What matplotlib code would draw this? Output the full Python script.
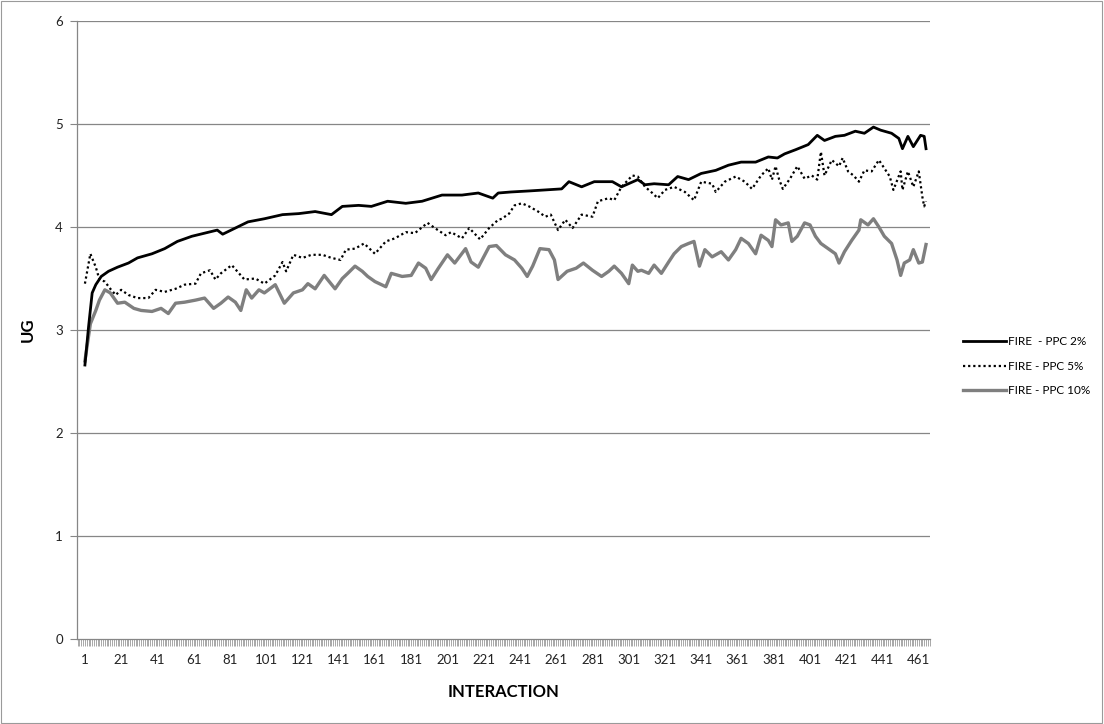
import matplotlib
matplotlib.use('Agg')
import matplotlib.pyplot as plt
from matplotlib.ticker import MultipleLocator, FixedLocator
from matplotlib.patches import Rectangle

plt.rcParams['font.family'] = ['Lato', 'DejaVu Sans']

# FIRE - PPC 2% (interaction, UG)
x_2 = [1, 3, 5, 7, 10, 14, 19, 25, 30, 38, 45, 52, 60, 67, 74, 77, 84, 91, 100,
       110, 119, 128, 137, 143, 152, 159, 168, 178, 187, 198, 209, 218, 226, 229,
       236, 246, 255, 264, 268, 275, 282, 292, 297, 306, 310, 315, 323, 328, 334,
       341, 349, 356, 363, 371, 378, 383, 387, 393, 400, 405, 409, 415, 420, 426,
       431, 436, 440, 446, 450, 452, 455, 458, 462, 464, 465]
ug_2 = [2.66, 3.03, 3.36, 3.44, 3.52, 3.57, 3.61, 3.65, 3.70, 3.74, 3.79, 3.86, 3.91,
        3.94, 3.97, 3.93, 3.99, 4.05, 4.08, 4.12, 4.13, 4.15, 4.12, 4.20, 4.21, 4.20,
        4.25, 4.23, 4.25, 4.31, 4.31, 4.33, 4.28, 4.33, 4.34, 4.35, 4.36, 4.37, 4.44,
        4.39, 4.44, 4.44, 4.39, 4.46, 4.41, 4.42, 4.41, 4.49, 4.46, 4.52, 4.55, 4.60,
        4.63, 4.63, 4.68, 4.67, 4.71, 4.75, 4.80, 4.89, 4.84, 4.88, 4.89, 4.93, 4.91,
        4.97, 4.94, 4.91, 4.86, 4.76, 4.88, 4.78, 4.89, 4.88, 4.76]

# FIRE - PPC 5%
x_5 = [1, 4, 7, 9, 12, 15, 18, 21, 25, 30, 36, 40, 45, 51, 56, 62, 65, 70, 73, 76,
       82, 86, 89, 95, 100, 106, 110, 112, 116, 121, 126, 132, 137, 142, 145, 150,
       155, 161, 167, 172, 178, 183, 190, 194, 200, 203, 209, 213, 219, 224, 229,
       231, 235, 238, 242, 246, 251, 255, 258, 262, 266, 270, 275, 281, 284, 290,
       293, 297, 303, 306, 310, 314, 317, 321, 326, 332, 337, 341, 347, 349, 354,
       360, 365, 369, 374, 378, 380, 382, 384, 386, 390, 394, 398, 402, 405, 407,
       409, 413, 417, 419, 422, 425, 428, 431, 435, 439, 442, 445, 447, 451, 452,
       455, 458, 461, 463, 464, 465]
ug_5 = [3.45, 3.74, 3.61, 3.49, 3.47, 3.40, 3.34, 3.39, 3.34, 3.31, 3.31, 3.39, 3.37,
        3.40, 3.44, 3.45, 3.55, 3.58, 3.49, 3.55, 3.63, 3.55, 3.49, 3.50, 3.45, 3.53,
        3.66, 3.57, 3.73, 3.70, 3.73, 3.73, 3.70, 3.68, 3.78, 3.79, 3.84, 3.74, 3.86,
        3.89, 3.95, 3.94, 4.04, 3.99, 3.92, 3.95, 3.89, 3.99, 3.88, 3.99, 4.07, 4.08,
        4.13, 4.21, 4.23, 4.20, 4.15, 4.10, 4.12, 3.97, 4.07, 3.99, 4.12, 4.10, 4.25,
        4.28, 4.26, 4.39, 4.50, 4.49, 4.39, 4.33, 4.28, 4.36, 4.39, 4.34, 4.26, 4.44,
        4.42, 4.34, 4.44, 4.49, 4.44, 4.37, 4.50, 4.57, 4.46, 4.59, 4.46, 4.37, 4.47,
        4.59, 4.47, 4.50, 4.46, 4.73, 4.50, 4.65, 4.59, 4.67, 4.54, 4.50, 4.44, 4.55,
        4.54, 4.65, 4.57, 4.49, 4.36, 4.54, 4.36, 4.54, 4.39, 4.54, 4.29, 4.20, 4.25]

# FIRE - PPC 10%
x_10 = [1, 4, 7, 9, 12, 15, 19, 23, 28, 32, 38, 43, 47, 51, 56, 62, 67, 72, 76, 80,
        84, 87, 90, 93, 97, 100, 106, 111, 116, 121, 124, 128, 133, 139, 143, 146,
        150, 154, 157, 161, 167, 170, 176, 181, 185, 189, 192, 196, 201, 205, 211,
        214, 218, 224, 228, 233, 238, 242, 245, 248, 252, 257, 260, 262, 267, 272,
        276, 281, 286, 290, 293, 297, 301, 303, 306, 308, 312, 315, 319, 323, 326,
        330, 334, 337, 340, 343, 347, 352, 356, 360, 363, 367, 371, 374, 378, 380,
        382, 385, 389, 391, 394, 398, 401, 404, 407, 411, 415, 417, 420, 424, 428,
        429, 433, 436, 439, 442, 446, 449, 451, 453, 456, 458, 461, 463, 465]
ug_10 = [2.70, 3.06, 3.19, 3.29, 3.39, 3.36, 3.26, 3.27, 3.21, 3.19, 3.18, 3.21, 3.16,
         3.26, 3.27, 3.29, 3.31, 3.21, 3.26, 3.32, 3.27, 3.19, 3.39, 3.31, 3.39, 3.36,
         3.44, 3.26, 3.36, 3.39, 3.45, 3.40, 3.53, 3.40, 3.50, 3.55, 3.62, 3.57, 3.52,
         3.47, 3.42, 3.55, 3.52, 3.53, 3.65, 3.60, 3.49, 3.60, 3.73, 3.65, 3.79, 3.66,
         3.61, 3.81, 3.82, 3.73, 3.68, 3.60, 3.52, 3.62, 3.79, 3.78, 3.68, 3.49, 3.57,
         3.60, 3.65, 3.58, 3.52, 3.57, 3.62, 3.55, 3.45, 3.63, 3.57, 3.58, 3.55, 3.63,
         3.55, 3.66, 3.74, 3.81, 3.84, 3.86, 3.62, 3.78, 3.71, 3.76, 3.68, 3.78, 3.89,
         3.84, 3.74, 3.92, 3.87, 3.81, 4.07, 4.02, 4.04, 3.86, 3.91, 4.04, 4.02, 3.91,
         3.84, 3.79, 3.74, 3.65, 3.76, 3.87, 3.97, 4.07, 4.02, 4.08, 4.00, 3.91, 3.84,
         3.68, 3.53, 3.65, 3.68, 3.78, 3.65, 3.66, 3.83]

labels = ['FIRE  - PPC 2%', 'FIRE - PPC 5%', 'FIRE - PPC 10%']
x_ticks = list(range(1, 462, 20))

fig = plt.figure(figsize=(11.04, 7.24), dpi=100)
ax = fig.add_axes([0.0697, 0.1174, 0.7727, 0.8536])

grid_c = '#868686'
for y in range(1, 7):
    ax.axhline(y, color=grid_c, lw=0.9, zorder=1)

ax.plot(x_2, ug_2, color='black', lw=2.0, label=labels[0], zorder=3)
ax.plot(x_5, ug_5, color='black', lw=1.6, linestyle=(0, (1, 1.3)), label=labels[1], zorder=3)
ax.plot(x_10, ug_10, color='#7f7f7f', lw=2.4, label=labels[2], zorder=2)

ax.set_xlim(-3.4, 467.2)
ax.set_ylim(0, 6)
ax.set_yticks(range(0, 7))
ax.xaxis.set_major_locator(FixedLocator(x_ticks))
ax.xaxis.set_minor_locator(MultipleLocator(1))
ax.tick_params(axis='x', which='both', length=5, width=0.5, color=grid_c,
               labelsize=9.5, labelcolor='#222222', pad=6)
ax.tick_params(axis='y', length=5, width=0.8, color=grid_c, labelsize=9.5,
               labelcolor='#222222', pad=5)

for side in ['top', 'right']:
    ax.spines[side].set_visible(False)
for side in ['left', 'bottom']:
    ax.spines[side].set_color(grid_c)
    ax.spines[side].set_linewidth(0.9)

ax.set_ylabel('UG', fontsize=12, fontweight='bold', labelpad=14)
ax.set_xlabel('INTERACTION', fontsize=12, fontweight='bold', labelpad=13)

fig.legend(loc='center left', bbox_to_anchor=(0.863, 0.494), frameon=False,
           fontsize=8.5, handlelength=3.6, handletextpad=0.2, labelspacing=1.15)

# thin chart-area border like the spreadsheet export
fig.patches.append(Rectangle((0.0005, 0.001), 0.998, 0.998, transform=fig.transFigure,
                             fill=False, edgecolor='#9a9a9a', lw=0.8))

plt.savefig('out.png', dpi=100)
